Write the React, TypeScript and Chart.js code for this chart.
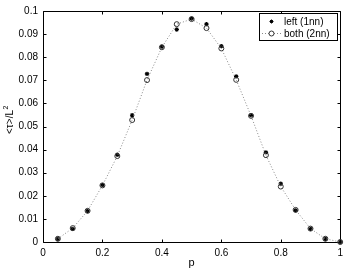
import React, { useEffect, useRef } from "react";
import { Chart, registerables } from "chart.js";

Chart.register(...registerables);

const pValues = [0.05, 0.1, 0.15, 0.2, 0.25, 0.3, 0.35, 0.4, 0.45, 0.5, 0.55, 0.6, 0.65, 0.7, 0.75, 0.8, 0.85, 0.9, 0.95, 1.0];
const leftSeries = [0.0013, 0.0057, 0.0134, 0.0246, 0.0378, 0.0549, 0.0728, 0.0845, 0.0920, 0.0967, 0.0943, 0.0848, 0.0717, 0.0548, 0.0388, 0.0252, 0.0137, 0.0057, 0.0013, 0];
const bothSeries = [0.0014, 0.0060, 0.0135, 0.0245, 0.0372, 0.0528, 0.0701, 0.0843, 0.0943, 0.0965, 0.0926, 0.0838, 0.0702, 0.0546, 0.0376, 0.0240, 0.0139, 0.0058, 0.0014, 0];
const xTicks = [0, 0.2, 0.4, 0.6, 0.8, 1];
const xTickLabels = ["0", "0.2", "0.4", "0.6", "0.8", "1"];
const yTicks = [0, 0.01, 0.02, 0.03, 0.04, 0.05, 0.06, 0.07, 0.08, 0.09, 0.1];
const yTickLabels = ["0", "0.01", "0.02", "0.03", "0.04", "0.05", "0.06", "0.07", "0.08", "0.09", "0.1"];
const legendLabels = ["left (1nn)", "both (2nn)"];
const yTitleMain = "<τ>/L";
const yTitleSup = "2";

const FONT = "'Liberation Sans', Arial, Helvetica, sans-serif";

const framePlugin = {
  id: "frame",
  beforeDatasetsDraw(chart: any) {
    const { ctx, chartArea } = chart;
    const { left, right, top, bottom } = chartArea;
    const xs = chart.scales.x;
    const ys = chart.scales.y;
    ctx.save();
    ctx.strokeStyle = "#000";
    ctx.lineWidth = 1;
    const L = Math.round(left) + 0.5;
    const R = Math.round(right) + 0.5;
    const T = Math.round(top) + 0.5;
    const B = Math.round(bottom) + 0.5;
    ctx.beginPath();
    ctx.rect(L, T, R - L, B - T);
    const tl = 3;
    xTicks.forEach((v) => {
      const x = Math.round(xs.getPixelForValue(v)) + 0.5;
      ctx.moveTo(x, B);
      ctx.lineTo(x, B - tl);
      ctx.moveTo(x, T);
      ctx.lineTo(x, T + tl);
    });
    yTicks.forEach((v) => {
      const y = Math.round(ys.getPixelForValue(v)) + 0.5;
      ctx.moveTo(L, y);
      ctx.lineTo(L + tl, y);
      ctx.moveTo(R, y);
      ctx.lineTo(R - tl, y);
    });
    ctx.stroke();
    ctx.restore();

    // y axis title with superscript
    ctx.save();
    ctx.translate(13, 134);
    ctx.rotate(-Math.PI / 2);
    ctx.fillStyle = "#000";
    ctx.textAlign = "left";
    ctx.textBaseline = "alphabetic";
    ctx.font = `10px ${FONT}`;
    ctx.fillText(yTitleMain, 0, 0);
    const w = ctx.measureText(yTitleMain).width;
    ctx.font = `7px ${FONT}`;
    ctx.fillText(yTitleSup, w + 0.5, -5);
    ctx.restore();
  },
};

const legendPlugin = {
  id: "customLegend",
  afterDraw(chart: any) {
    const { ctx } = chart;
    const bx = 259.5, by = 13.5, bw = 78, bh = 27;
    ctx.save();
    ctx.fillStyle = "#fff";
    ctx.fillRect(bx, by, bw, bh);
    ctx.strokeStyle = "#000";
    ctx.lineWidth = 1;
    ctx.strokeRect(bx, by, bw, bh);
    ctx.font = `10px ${FONT}`;
    ctx.fillStyle = "#000";
    ctx.textBaseline = "middle";
    ctx.textAlign = "left";
    const y1 = 21.5, y2 = 33.5, mx = 271.5;
    ctx.beginPath();
    const r = 2;
    for (let i = 0; i < 4; i++) {
      const a = (i * Math.PI) / 4;
      ctx.moveTo(mx - r * Math.cos(a), y1 - r * Math.sin(a));
      ctx.lineTo(mx + r * Math.cos(a), y1 + r * Math.sin(a));
    }
    ctx.stroke();
    ctx.fillText(legendLabels[0], 284, y1 + 0.5);
    ctx.strokeStyle = "#888";
    ctx.setLineDash([1, 2]);
    ctx.beginPath();
    ctx.moveTo(262, y2);
    ctx.lineTo(282, y2);
    ctx.stroke();
    ctx.setLineDash([]);
    ctx.strokeStyle = "#333";
    ctx.beginPath();
    ctx.arc(mx, y2, 2.5, 0, Math.PI * 2);
    ctx.fillStyle = "#fff";
    ctx.fill();
    ctx.stroke();
    ctx.fillStyle = "#000";
    ctx.fillText(legendLabels[1], 284, y2 + 0.5);
    ctx.restore();
  },
};

export default function App() {
  const canvasRef = useRef<HTMLCanvasElement | null>(null);
  useEffect(() => {
    const canvas = canvasRef.current;
    if (!canvas) return;
    const chart = new Chart(canvas, {
      type: "scatter",
      data: {
        datasets: [
          {
            label: legendLabels[1],
            data: pValues.map((p, i) => ({ x: p, y: bothSeries[i] })),
            showLine: true,
            borderColor: "#888",
            borderWidth: 1,
            borderDash: [1, 2],
            pointStyle: "circle",
            pointRadius: 2.5,
            pointBorderColor: "#333",
            pointBackgroundColor: "rgba(0,0,0,0)",
            pointBorderWidth: 1,
            clip: false as any,
          } as any,
          {
            label: legendLabels[0],
            data: pValues.map((p, i) => ({ x: p, y: leftSeries[i] })),
            showLine: false,
            pointStyle: "star",
            pointRadius: 2.2,
            pointBorderColor: "#000",
            pointBackgroundColor: "#000",
            pointBorderWidth: 1.1,
            clip: false as any,
          } as any,
        ],
      },
      options: {
        animation: false,
        responsive: false,
        maintainAspectRatio: false,
        layout: { padding: { left: 0, top: 9, right: 7, bottom: 0 } },
        plugins: { legend: { display: false }, tooltip: { enabled: false } },
        scales: {
          x: {
            type: "linear",
            min: 0,
            max: 1,
            afterBuildTicks: (s: any) => {
              s.ticks = xTicks.map((v) => ({ value: v }));
            },
            afterFit: (s: any) => {
              s.height = 28;
            },
            grid: { display: false, drawTicks: false },
            border: { display: false },
            ticks: {
              padding: 5,
              color: "#000",
              font: { size: 10, family: FONT },
              maxRotation: 0,
              autoSkip: false,
              callback: (_v: any, i: number) => xTickLabels[i],
            },
            title: {
              display: true,
              text: "p",
              color: "#000",
              font: { size: 11, family: FONT },
              padding: { top: 0, bottom: 0 },
            },
          },
          y: {
            type: "linear",
            min: 0,
            max: 0.1,
            afterBuildTicks: (s: any) => {
              s.ticks = yTicks.map((v) => ({ value: v }));
            },
            afterFit: (s: any) => {
              s.width = 43;
            },
            grid: { display: false, drawTicks: false },
            border: { display: false },
            ticks: {
              padding: 5,
              color: "#000",
              font: { size: 10, family: FONT },
              autoSkip: false,
              callback: (_v: any, i: number) => yTickLabels[i],
            },
          },
        },
      },
      plugins: [framePlugin, legendPlugin],
    });
    return () => chart.destroy();
  }, []);
  return (
    <div style={{ position: "fixed", left: 0, top: 0, width: 348, height: 270, background: "#fff" }}>
      <canvas ref={canvasRef} width={348} height={270} style={{ width: 348, height: 270 }} />
    </div>
  );
}
